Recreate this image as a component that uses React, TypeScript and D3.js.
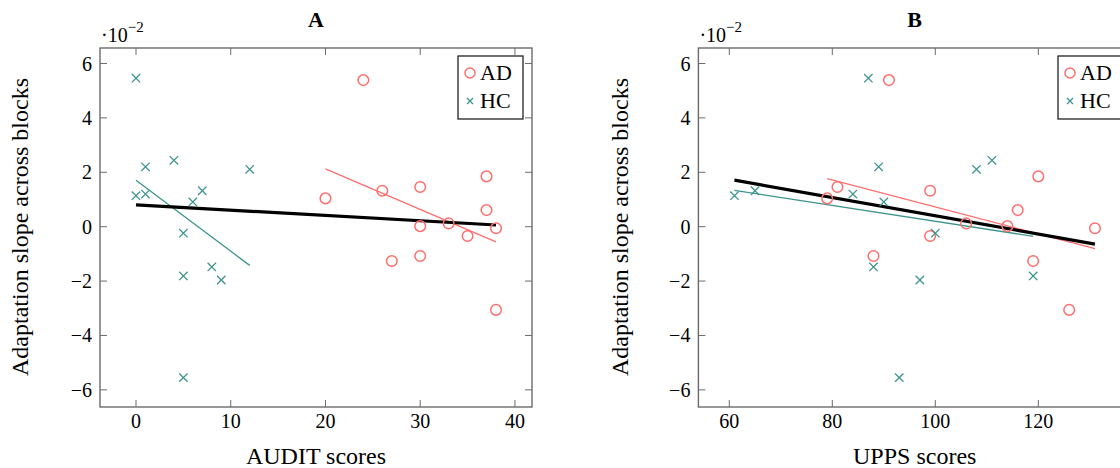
import React from "react";
import * as d3 from "d3";

// Slope values are in units of 1e-2
const adAudit = [24, 20, 26, 30, 37, 37, 30, 33, 38, 35, 27, 30, 38];
const adUpps = [91, 79, 99, 81, 120, 116, 114, 106, 131, 99, 119, 88, 126];
const adSlope = [5.39, 1.04, 1.32, 1.46, 1.85, 0.61, 0.02, 0.12, -0.06, -0.34, -1.26, -1.08, -3.06];

const hcAudit = [0, 0, 1, 1, 4, 5, 5, 5, 6, 7, 8, 9, 12];
const hcUpps = [87, 61, 89, 84, 111, 100, 119, 93, 90, 65, 88, 97, 108];
const hcSlope = [5.46, 1.14, 2.2, 1.2, 2.44, -0.24, -1.81, -5.55, 0.91, 1.32, -1.48, -1.96, 2.11];

const auditTicks = [0, 10, 20, 30, 40];
const uppsTicks = [60, 80, 100, 120];
const yTicks = [-6, -4, -2, 0, 2, 4, 6];

const AD_COLOR = "#ff6e6e";
const HC_COLOR = "#3e948e";
const AXIS = "#6b6b6b";
const FS = { fontFamily: "Liberation Serif" };

function fit(xs: number[], ys: number[]) {
  const mx = d3.mean(xs)!;
  const my = d3.mean(ys)!;
  let sxy = 0, sxx = 0;
  xs.forEach((x, i) => {
    sxy += (x - mx) * (ys[i] - my);
    sxx += (x - mx) * (x - mx);
  });
  const b = sxy / sxx;
  const a = my - b * mx;
  const [lo, hi] = d3.extent(xs) as [number, number];
  return [
    [lo, a + b * lo],
    [hi, a + b * hi],
  ];
}

const fmt = (v: number) => (v < 0 ? "\u2212" + Math.abs(v) : String(v));

function Panel({
  title, xLabel, ad, hc, xTicks, px, xDomain, yLabelX,
}: {
  title: string; xLabel: string; ad: number[]; hc: number[]; xTicks: number[];
  px: [number, number]; xDomain: [number, number]; yLabelX: number;
}) {
  const top = 48, bottom = 407;
  const x = d3.scaleLinear().domain(xDomain).range(px);
  const y = d3.scaleLinear().domain([-6.63, 6.57]).range([bottom, top]);
  const line = d3.line<number[]>().x((d) => x(d[0])).y((d) => y(d[1]));
  const allX = [...ad, ...hc];
  const allY = [...adSlope, ...hcSlope];
  const [l, r] = px;
  const tl = 7;
  const legX = title === "A" ? 458 : 1058;
  return (
    <g>
      <text x={(l + r) / 2} y={27} textAnchor="middle" fontWeight="bold" fontSize={22} style={FS}>{title}</text>
      <text x={l + 1} y={42} fontSize={20} style={FS}>
        ·10<tspan dy={-10} fontSize={15}>−2</tspan>
      </text>
      {xTicks.map((t) => (
        <g key={"x" + t}>
          <line x1={x(t)} x2={x(t)} y1={bottom} y2={bottom - tl} stroke={AXIS} strokeWidth={1} />
          <line x1={x(t)} x2={x(t)} y1={top} y2={top + tl} stroke={AXIS} strokeWidth={1} />
          <text x={x(t)} y={428} textAnchor="middle" fontSize={20} style={FS}>{fmt(t)}</text>
        </g>
      ))}
      {yTicks.map((t) => (
        <g key={"y" + t}>
          <line x1={l} x2={l + tl} y1={y(t)} y2={y(t)} stroke={AXIS} strokeWidth={1} />
          <line x1={r} x2={r - tl} y1={y(t)} y2={y(t)} stroke={AXIS} strokeWidth={1} />
          <text x={l - 8} y={y(t) + 7} textAnchor="end" fontSize={20} style={FS}>{fmt(t)}</text>
        </g>
      ))}
      <path d={line(fit(hc, hcSlope))!} stroke={HC_COLOR} strokeWidth={1.3} fill="none" />
      <path d={line(fit(ad, adSlope))!} stroke={AD_COLOR} strokeWidth={1.3} fill="none" />
      <path d={line(fit(allX, allY))!} stroke="#000" strokeWidth={3.2} fill="none" />
      {ad.map((v, i) => (
        <circle key={"a" + i} cx={x(v)} cy={y(adSlope[i])} r={5.3} fill="none" stroke={AD_COLOR} strokeWidth={1.5} />
      ))}
      {hc.map((v, i) => (
        <path key={"h" + i} d={`M${x(v) - 4.2},${y(hcSlope[i]) - 4.2}L${x(v) + 4.2},${y(hcSlope[i]) + 4.2}M${x(v) - 4.2},${y(hcSlope[i]) + 4.2}L${x(v) + 4.2},${y(hcSlope[i]) - 4.2}`} stroke={HC_COLOR} strokeWidth={1.3} />
      ))}
      <rect x={l} y={top} width={r - l} height={bottom - top} fill="none" stroke={AXIS} strokeWidth={1.4} />
      <g>
        <rect x={legX} y={56} width={65} height={63} fill="#fff" stroke="#222" strokeWidth={1.3} />
        <circle cx={legX + 12} cy={73} r={5} fill="none" stroke={AD_COLOR} strokeWidth={1.5} />
        <text x={legX + 22} y={80} fontSize={22} style={FS}>AD</text>
        <path d={`M${legX + 9},${98}L${legX + 15},${104}M${legX + 9},${104}L${legX + 15},${98}`} stroke={HC_COLOR} strokeWidth={1.3} />
        <text x={legX + 22} y={108} fontSize={22} style={FS}>HC</text>
      </g>
      <text x={(l + r) / 2} y={464} textAnchor="middle" fontSize={24} style={FS}>{xLabel}</text>
      <text transform={`translate(${yLabelX},${227}) rotate(-90)`} textAnchor="middle" fontSize={24} style={FS}>Adaptation slope across blocks</text>
    </g>
  );
}

export default function App() {
  return (
    <svg width={1120} height={468} style={{ position: "absolute", left: 0, top: 0, background: "#fff" }}>
      <rect width={1120} height={468} fill="#fff" />
      <Panel title="A" xLabel="AUDIT scores" ad={adAudit} hc={hcAudit} xTicks={auditTicks} px={[100, 532]} xDomain={[-3.8, 41.8]} yLabelX={28} />
      <Panel title="B" xLabel="UPPS scores" ad={adUpps} hc={hcUpps} xTicks={uppsTicks} px={[698.4, 1131]} xDomain={[54, 138]} yLabelX={628} />
    </svg>
  );
}
